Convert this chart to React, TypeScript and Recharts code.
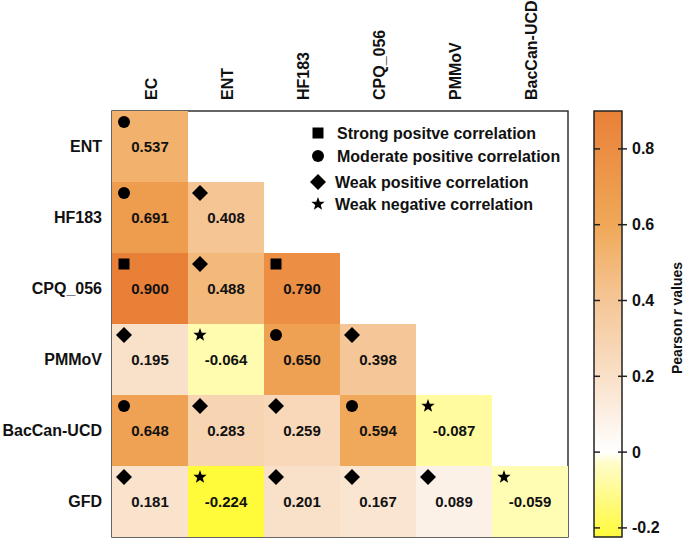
import React from 'react';
import { ScatterChart, Scatter, XAxis, YAxis, ReferenceArea, Legend } from 'recharts';

// ---------- data ----------
const colLabels = ['EC', 'ENT', 'HF183', 'CPQ_056', 'PMMoV', 'BacCan-UCD'];
const rowLabels = ['ENT', 'HF183', 'CPQ_056', 'PMMoV', 'BacCan-UCD', 'GFD'];

const valuesENT = [0.537];
const valuesHF183 = [0.691, 0.408];
const valuesCPQ056 = [0.9, 0.488, 0.79];
const valuesPMMoV = [0.195, -0.064, 0.65, 0.398];
const valuesBacCan = [0.648, 0.283, 0.259, 0.594, -0.087];
const valuesGFD = [0.181, -0.224, 0.201, 0.167, 0.089, -0.059];

const symbolsENT = ['moderate'];
const symbolsHF183 = ['moderate', 'weak'];
const symbolsCPQ056 = ['strong', 'weak', 'strong'];
const symbolsPMMoV = ['weak', 'negative', 'moderate', 'weak'];
const symbolsBacCan = ['moderate', 'weak', 'weak', 'moderate', 'negative'];
const symbolsGFD = ['weak', 'negative', 'weak', 'weak', 'weak', 'negative'];

const legendKinds = ['strong', 'moderate', 'weak', 'negative'];
const legendLabels = [
  'Strong positve correlation',
  'Moderate positive correlation',
  'Weak positive correlation',
  'Weak negative correlation',
];

const colorbarTicks = [-0.2, 0, 0.2, 0.4, 0.6, 0.8];
const colorMin = -0.224;
const colorMax = 0.9;

// colour stops [value, r, g, b]
const colorStops: [number, number, number, number][] = [
  [-0.224, 255, 250, 58],
  [-0.03, 255, 252, 200],
  [0, 255, 255, 255],
  [0.2, 249, 224, 200],
  [0.4, 245, 198, 150],
  [0.6, 240, 168, 88],
  [0.9, 233, 128, 56],
];

// ---------- helpers ----------
const FONT = "'Liberation Sans', Arial, Helvetica, sans-serif";
const CELL_W = 76;
const CELL_H = 71;

const valueRows = [valuesENT, valuesHF183, valuesCPQ056, valuesPMMoV, valuesBacCan, valuesGFD];
const symbolRows = [symbolsENT, symbolsHF183, symbolsCPQ056, symbolsPMMoV, symbolsBacCan, symbolsGFD];

const cells = valueRows.flatMap((row, i) =>
  row.map((v, j) => ({ x: j + 0.5, y: i + 0.5, v, sym: symbolRows[i][j] }))
);

const colorbarPoints = colorbarTicks.map((t) => ({ x: 0.5, y: t }));

function colorFor(v: number): string {
  if (v <= colorStops[0][0]) {
    const s = colorStops[0];
    return `rgb(${s[1]},${s[2]},${s[3]})`;
  }
  for (let k = 1; k < colorStops.length; k++) {
    const a = colorStops[k - 1];
    const b = colorStops[k];
    if (v <= b[0]) {
      const t = (v - a[0]) / (b[0] - a[0]);
      const r = Math.round(a[1] + (b[1] - a[1]) * t);
      const g = Math.round(a[2] + (b[2] - a[2]) * t);
      const bl = Math.round(a[3] + (b[3] - a[3]) * t);
      return `rgb(${r},${g},${bl})`;
    }
  }
  const s = colorStops[colorStops.length - 1];
  return `rgb(${s[1]},${s[2]},${s[3]})`;
}

function starPoints(cx: number, cy: number, ro: number, ri: number): string {
  const pts: string[] = [];
  for (let k = 0; k < 10; k++) {
    const r = k % 2 === 0 ? ro : ri;
    const ang = -Math.PI / 2 + (k * Math.PI) / 5;
    pts.push(`${cx + r * Math.cos(ang)},${cy + r * Math.sin(ang)}`);
  }
  return pts.join(' ');
}

const Marker = ({ kind, x, y }: { kind: string; x: number; y: number }) => {
  if (kind === 'strong') return <rect x={x - 5.5} y={y - 5.5} width={11} height={11} fill="#000" />;
  if (kind === 'moderate') return <circle cx={x} cy={y} r={6} fill="#000" />;
  if (kind === 'weak')
    return <polygon points={`${x},${y - 8} ${x + 8},${y} ${x},${y + 8} ${x - 8},${y}`} fill="#000" />;
  return <polygon points={starPoints(x, y, 7, 2.9)} fill="#000" />;
};

const CellShape = (props: any) => {
  const { cx, cy, payload } = props;
  if (cx == null || cy == null) return null;
  const left = cx - CELL_W / 2;
  const top = cy - CELL_H / 2;
  return (
    <g>
      <rect x={left} y={top} width={CELL_W} height={CELL_H} fill={colorFor(payload.v)} />
      <Marker kind={payload.sym} x={left + 12} y={top + 11} />
      <text
        x={cx}
        y={cy + 5.5}
        textAnchor="middle"
        fontFamily={FONT}
        fontWeight="bold"
        fontSize={15}
        fill="#111"
      >
        {payload.v.toFixed(3)}
      </text>
    </g>
  );
};

const EmptyShape = () => <g />;

const XTick = (props: any) => {
  const { x, payload } = props;
  const label = colLabels[Math.floor(payload.value)];
  return (
    <text
      transform={`translate(${x + 7},100) rotate(-90)`}
      textAnchor="start"
      fontFamily={FONT}
      fontWeight="bold"
      fontSize={16}
      fill="#111"
    >
      {label}
    </text>
  );
};

const YTick = (props: any) => {
  const { y, payload } = props;
  const label = rowLabels[Math.floor(payload.value)];
  return (
    <text x={102} y={y + 5.5} textAnchor="end" fontFamily={FONT} fontWeight="bold" fontSize={16} fill="#111">
      {label}
    </text>
  );
};

const LegendContent = () => {
  const rowsY = [15, 38, 64, 86];
  const textX = [32, 32, 30, 30];
  return (
    <svg width={270} height={100} style={{ overflow: 'visible' }}>
      {legendKinds.map((k, i) => (
        <g key={k}>
          <Marker kind={k} x={13} y={rowsY[i]} />
          <text x={textX[i]} y={rowsY[i] + 5.5} fontFamily={FONT} fontWeight="bold" fontSize={16} fill="#111">
            {legendLabels[i]}
          </text>
        </g>
      ))}
    </svg>
  );
};

// colorbar geometry in colorbar-chart coordinates
const CB_LEFT = 4;
const CB_RIGHT = 32;

const CbTick = (props: any) => {
  const { y, payload } = props;
  const v = payload.value;
  const label = v === 0 ? '0' : v.toFixed(1);
  return (
    <g>
      <line x1={CB_LEFT} x2={CB_LEFT + 6} y1={y} y2={y} stroke="#222" strokeWidth={1.5} />
      <line x1={CB_RIGHT - 4} x2={CB_RIGHT + 5} y1={y} y2={y} stroke="#222" strokeWidth={1.5} />
      <text x={42} y={y + 5.5} textAnchor="start" fontFamily={FONT} fontWeight="bold" fontSize={16} fill="#111">
        {label}
      </text>
    </g>
  );
};

const PearsonLabel = () => (
  <text
    transform="translate(92,318) rotate(-90)"
    textAnchor="middle"
    fontFamily={FONT}
    fontWeight="bold"
    fontSize={14}
    fill="#111"
  >
    Pearson <tspan fontStyle="italic">r</tspan> values
  </text>
);

const gradientStops = [...colorStops].reverse();

export default function App() {
  return (
    <div style={{ position: 'absolute', left: 0, top: 0, width: 685, height: 539, background: '#fff' }}>
      <div style={{ position: 'absolute', left: 0, top: 0 }}>
        <ScatterChart width={685} height={539} margin={{ top: 11, right: 117, bottom: 2, left: 12 }}>
          <XAxis
            type="number"
            dataKey="x"
            orientation="top"
            domain={[0, 6]}
            ticks={[0.5, 1.5, 2.5, 3.5, 4.5, 5.5]}
            height={100}
            axisLine={false}
            tickLine={false}
            tick={<XTick />}
            interval={0}
          />
          <YAxis
            type="number"
            dataKey="y"
            domain={[0, 6]}
            reversed
            ticks={[0.5, 1.5, 2.5, 3.5, 4.5, 5.5]}
            width={100}
            axisLine={false}
            tickLine={false}
            tick={<YTick />}
            interval={0}
          />
          <Scatter data={cells} shape={<CellShape />} isAnimationActive={false} />
          <ReferenceArea x1={0} x2={6} y1={0} y2={6} fill="none" fillOpacity={0} stroke="#333" strokeWidth={1.5} />
          <Legend
            layout="vertical"
            align="center"
            verticalAlign="middle"
            content={<LegendContent />}
            wrapperStyle={{ position: 'absolute', left: 305, top: 118, width: 270, height: 100 }}
          />
        </ScatterChart>
      </div>
      <div style={{ position: 'absolute', left: 590, top: 0 }}>
        <ScatterChart width={95} height={539} margin={{ top: 111, right: 0, bottom: 2, left: 4 }}>
          <defs>
            <linearGradient id="cbGrad" x1="0" y1="0" x2="0" y2="1">
              {gradientStops.map((s) => (
                <stop
                  key={s[0]}
                  offset={`${((colorMax - s[0]) / (colorMax - colorMin)) * 100}%`}
                  stopColor={`rgb(${s[1]},${s[2]},${s[3]})`}
                />
              ))}
            </linearGradient>
          </defs>
          <XAxis type="number" dataKey="x" domain={[0, 1]} hide />
          <YAxis
            type="number"
            dataKey="y"
            orientation="right"
            domain={[colorMin, colorMax]}
            ticks={colorbarTicks}
            width={63}
            axisLine={false}
            tickLine={false}
            tick={<CbTick />}
            interval={0}
            label={<PearsonLabel />}
            allowDataOverflow
          />
          <ReferenceArea
            x1={0}
            x2={1}
            y1={colorMin}
            y2={colorMax}
            fill="url(#cbGrad)"
            fillOpacity={1}
            stroke="#222"
            strokeWidth={1.5}
          />
          <Scatter data={colorbarPoints} shape={<EmptyShape />} isAnimationActive={false} />
        </ScatterChart>
      </div>
    </div>
  );
}
